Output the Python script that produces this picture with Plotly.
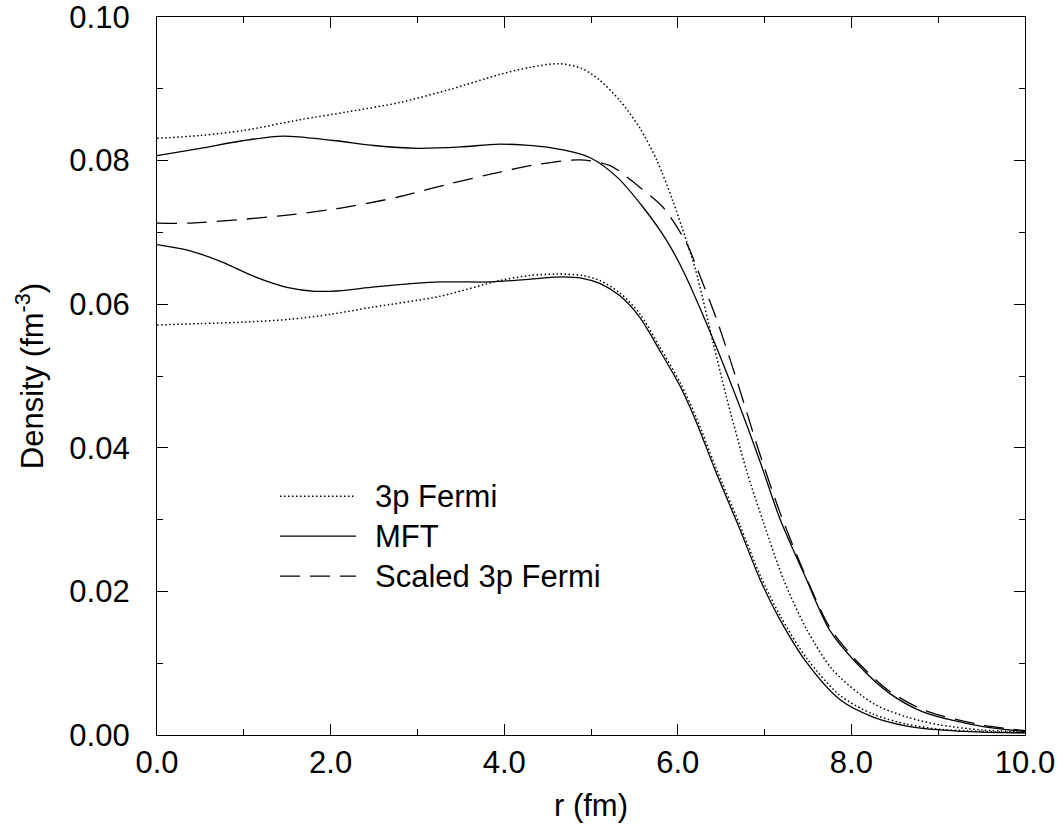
import plotly.graph_objects as go

# --- data ---
r_fermi_n = [0.0, 0.5, 1.0, 1.65, 2.2, 2.8, 3.4, 3.95, 4.3, 4.64, 4.9, 5.1, 5.33, 5.56, 5.76, 5.94, 6.1, 6.2, 6.41, 6.56, 6.79, 6.99, 7.22, 7.49, 7.79, 8.25, 8.64, 9.02, 9.5, 10.0]
d_fermi_n = [0.0831, 0.0835, 0.0842, 0.0857, 0.0868, 0.0881, 0.0900, 0.0920, 0.0930, 0.0935, 0.0928, 0.0912, 0.0884, 0.0846, 0.0800, 0.0745, 0.0688, 0.0650, 0.0545, 0.0471, 0.0369, 0.0295, 0.0216, 0.0146, 0.0090, 0.0044, 0.0025, 0.0014, 0.0007, 0.0004]

r_mft_n = [0.0, 0.5, 1.0, 1.45, 2.03, 2.5, 3.0, 3.5, 3.95, 4.53, 4.99, 5.3, 5.6, 5.87, 6.06, 6.37, 6.7, 6.95, 7.18, 7.47, 7.75, 8.06, 8.44, 8.83, 9.5, 10.0]
d_mft_n = [0.0807, 0.0817, 0.0828, 0.0834, 0.0828, 0.0821, 0.0817, 0.0819, 0.0823, 0.0818, 0.0804, 0.0777, 0.0735, 0.0689, 0.0647, 0.0562, 0.0462, 0.0380, 0.0300, 0.0220, 0.0146, 0.0100, 0.0058, 0.0032, 0.0012, 0.0005]

r_scaled = [0.0, 0.4, 1.42, 2.07, 2.49, 2.8, 3.38, 3.95, 4.4, 4.87, 5.22, 5.56, 5.83, 6.1, 6.26, 6.45, 6.68, 6.93, 7.18, 7.47, 7.75, 8.06, 8.44, 8.83, 9.5, 10.0]
d_scaled = [0.0713, 0.0713, 0.0723, 0.0733, 0.0742, 0.0750, 0.0768, 0.0784, 0.0795, 0.0801, 0.0793, 0.0763, 0.0735, 0.0685, 0.0638, 0.0578, 0.0494, 0.0397, 0.0309, 0.0222, 0.0150, 0.0103, 0.0061, 0.0035, 0.0014, 0.0006]

r_mft_p = [0.0, 0.36, 0.745, 1.13, 1.51, 1.82, 2.13, 2.51, 3.26, 3.84, 4.3, 4.68, 4.9, 5.1, 5.33, 5.56, 5.79, 6.03, 6.22, 6.43, 6.72, 6.95, 7.18, 7.49, 7.87, 8.25, 8.64, 9.02, 9.5, 10.0]
d_mft_p = [0.0683, 0.0675, 0.0659, 0.0638, 0.0623, 0.0618, 0.0619, 0.0624, 0.0631, 0.0631, 0.0635, 0.0638, 0.0636, 0.0629, 0.0612, 0.0582, 0.0536, 0.0485, 0.0434, 0.0369, 0.0285, 0.0216, 0.0160, 0.0100, 0.0049, 0.0025, 0.00125, 0.0007, 0.0004, 0.0003]

r_fermi_p = [0.0, 0.5, 1.0, 1.53, 2.0, 2.49, 3.26, 3.95, 4.3, 4.6, 4.9, 5.1, 5.33, 5.56, 5.79, 6.03, 6.22, 6.43, 6.72, 6.95, 7.18, 7.49, 7.87, 8.25, 8.64, 9.02, 9.5, 10.0]
d_fermi_p = [0.0571, 0.0573, 0.0575, 0.0579, 0.0586, 0.0596, 0.0611, 0.0633, 0.0640, 0.0642, 0.0640, 0.0633, 0.0616, 0.0587, 0.0541, 0.0490, 0.0440, 0.0375, 0.0291, 0.0222, 0.0166, 0.0106, 0.0055, 0.0029, 0.0015, 0.0008, 0.0005, 0.0003]

legend_labels = ["3p Fermi", "MFT", "Scaled 3p Fermi"]

x_ticks = [0, 2, 4, 6, 8, 10]
x_ticktext = ["0.0", "2.0", "4.0", "6.0", "8.0", "10.0"]
y_ticks = [0.0, 0.02, 0.04, 0.06, 0.08, 0.10]
y_ticktext = ["0.00", "0.02", "0.04", "0.06", "0.08", "0.10"]

FONT = "Liberation Sans, Arial, Helvetica, sans-serif"
FS = 31
DOT = "1.5px,2.5px"
DASH = "20px,10px"

fig = go.Figure()

def add(rr, dd, dash):
    fig.add_trace(go.Scatter(x=rr, y=dd, mode="lines", line_shape="spline",
                             line=dict(color="black", width=1.5 if dash == DOT else 1.3,
                                       dash=dash, smoothing=0.8),
                             showlegend=False, hoverinfo="skip"))

add(r_fermi_n, d_fermi_n, DOT)
add(r_fermi_p, d_fermi_p, DOT)
add(r_mft_n, d_mft_n, "solid")
add(r_mft_p, d_mft_p, "solid")
add(r_scaled, d_scaled, DASH)

# manual legend (long line samples as in the reference)
leg_styles = [DOT, "solid", DASH]
leg_y = [0.3326, 0.2770, 0.2213]
for lab, st, yy in zip(legend_labels, leg_styles, leg_y):
    fig.add_shape(type="line", xref="paper", yref="paper", x0=0.1417, x1=0.2293, y0=yy, y1=yy,
                  line=dict(color="black", width=1.5 if st == DOT else 1.3, dash=st))
    fig.add_annotation(xref="paper", yref="paper", x=0.2489, y=yy, text=lab, showarrow=False,
                       xanchor="left", yanchor="middle", font=dict(size=FS, color="black", family=FONT))

axis_common = dict(showgrid=False, zeroline=False, showline=True, linecolor="black", linewidth=1.3,
                   mirror="allticks", ticks="inside", ticklen=11, tickwidth=1.3, tickcolor="black",
                   ticklabeloverflow="allow",
                   tickfont=dict(size=FS, color="black", family=FONT))

fig.update_xaxes(range=[0, 10], tickvals=x_ticks, ticktext=x_ticktext,
                 minor=dict(dtick=1, ticks="inside", ticklen=6, tickwidth=1.3, tickcolor="black"),
                 title=dict(text="r (fm)", font=dict(size=FS, color="black", family=FONT), standoff=14),
                 **axis_common)
fig.update_yaxes(range=[0, 0.10], tickvals=y_ticks, ticktext=y_ticktext,
                 minor=dict(dtick=0.01, ticks="inside", ticklen=6, tickwidth=1.3, tickcolor="black"),
                 title=dict(text="Density (fm<sup>-3</sup>)", font=dict(size=FS, color="black", family=FONT), standoff=16),
                 ticklabelstandoff=20,
                 **axis_common)

fig.update_layout(width=1064, height=832, plot_bgcolor="white", paper_bgcolor="white",
                  margin=dict(l=157, r=39, t=17, b=97, autoexpand=False),
                  font=dict(family=FONT, color="black"))

fig.write_html("out.html", config={"displayModeBar": False},
               post_script="document.body.style.margin='0';document.body.style.overflow='hidden';")
